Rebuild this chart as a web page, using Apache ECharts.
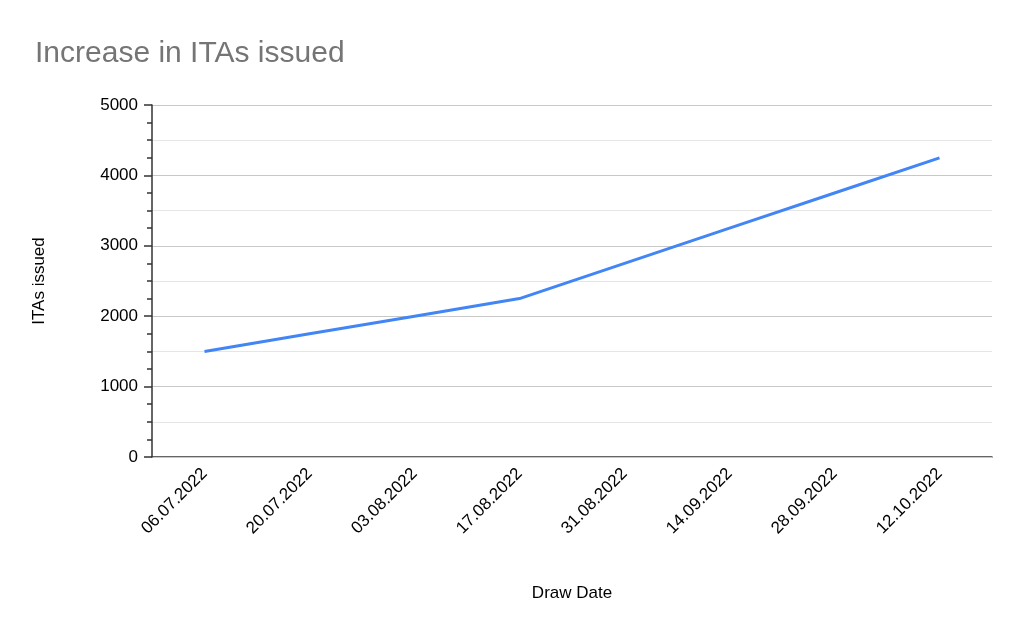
<!DOCTYPE html>
<html><head><meta charset="utf-8">
<script src="https://cdn.jsdelivr.net/npm/echarts@6/dist/echarts.min.js"></script>
<style>html,body{margin:0;padding:0;background:#fff}#c{width:1024px;height:633px}</style>
</head><body><div id="c"></div>
<script>
const categories = ["06.07.2022","20.07.2022","03.08.2022","17.08.2022","31.08.2022","14.09.2022","28.09.2022","12.10.2022"];
const itas = [1500,1750,2000,2250,2750,3250,3750,4250];
const F = 'Liberation Sans, Arial';
const chart = echarts.init(document.getElementById('c'));
chart.setOption({
  animation:false,
  title:{text:'Increase in ITAs issued',left:30,top:34,textStyle:{fontFamily:F,fontSize:30,fontWeight:'normal',color:'#757575'}},
  grid:{left:152,right:32,top:105,bottom:176},
  xAxis:{type:'category',data:categories,boundaryGap:true,
    name:'Draw Date',nameLocation:'middle',nameGap:128,
    nameTextStyle:{fontFamily:F,fontSize:17,color:'#000'},
    axisLine:{lineStyle:{color:'#333',width:1.5}},axisTick:{show:false},
    axisLabel:{rotate:45,fontFamily:F,fontSize:17,color:'#000',margin:14,interval:0}},
  yAxis:[{type:'value',min:0,max:5000,interval:1000,z:3,
    name:'ITAs issued',nameLocation:'middle',nameGap:104,
    nameTextStyle:{fontFamily:F,fontSize:17,color:'#000'},
    axisLine:{show:true,lineStyle:{color:'#333',width:1.5}},
    axisTick:{show:true,length:8,lineStyle:{color:'#333',width:1.5}},
    minorTick:{show:true,splitNumber:4,length:5,lineStyle:{color:'#333',width:1.5}},
    minorSplitLine:{show:false},
    splitLine:{lineStyle:{color:'#c8c8c8',width:1}},
    axisLabel:{fontFamily:F,fontSize:17,color:'#000',margin:14,formatter:v=>String(v)}},
   {type:'value',min:0,max:5000,interval:500,position:'left',z:1,
    axisLine:{show:false},axisTick:{show:false},axisLabel:{show:false},
    splitLine:{lineStyle:{color:'#e6e6e6',width:1}}}],
  series:[{type:'line',data:itas,yAxisIndex:0,showSymbol:false,z:5,lineStyle:{color:'#4285f4',width:3},itemStyle:{color:'#4285f4'}}]
});
</script></body></html>
